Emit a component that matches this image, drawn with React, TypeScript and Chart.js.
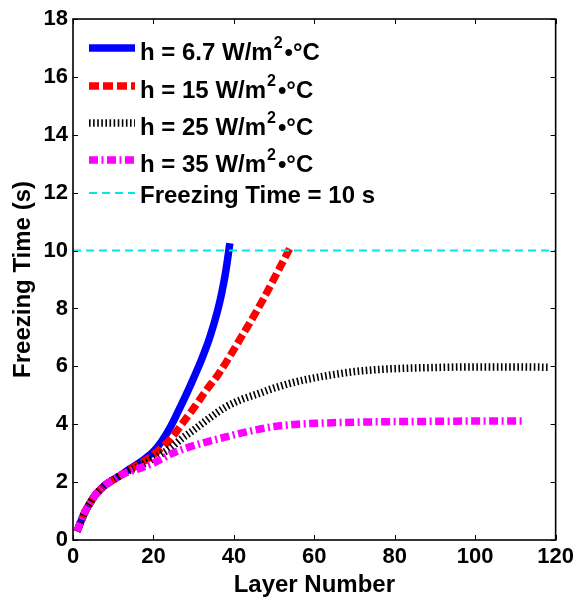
import React, { useEffect, useRef } from "react";
import { Chart, registerables } from "chart.js";

Chart.register(...registerables);

// ---- Data ----
const layersBlue = [1, 2, 3, 4, 5, 6, 7, 8, 10, 12, 14, 16, 18, 20, 22, 24, 26, 28, 30, 32, 34, 36, 37, 38, 39];
const freezeBlue = [0.3, 0.65, 0.98, 1.22, 1.45, 1.63, 1.77, 1.9, 2.08, 2.25, 2.45, 2.62, 2.82, 3.05, 3.4, 3.85, 4.4, 4.98, 5.6, 6.25, 7.0, 7.95, 8.55, 9.3, 10.25];

const layersRed = [1, 2, 3, 4, 5, 6, 7, 8, 10, 12, 14, 16, 18, 20, 22, 24, 26, 28, 30, 33, 36, 39, 42, 45, 48, 51, 54];
const freezeRed = [0.3, 0.65, 0.98, 1.22, 1.45, 1.63, 1.77, 1.9, 2.08, 2.25, 2.43, 2.58, 2.75, 2.95, 3.18, 3.45, 3.8, 4.18, 4.55, 5.15, 5.7, 6.35, 7.05, 7.75, 8.5, 9.3, 10.1];

const layersBlack = [1, 2, 3, 4, 5, 6, 7, 8, 10, 12, 14, 16, 18, 20, 22, 24, 27, 30, 34, 38, 42, 46, 50, 55, 60, 65, 70, 75, 80, 90, 100, 110, 118];
const freezeBlack = [0.3, 0.65, 0.98, 1.22, 1.45, 1.63, 1.77, 1.9, 2.08, 2.25, 2.4, 2.52, 2.66, 2.82, 2.98, 3.15, 3.5, 3.8, 4.22, 4.6, 4.86, 5.05, 5.25, 5.45, 5.6, 5.72, 5.82, 5.88, 5.92, 5.96, 5.98, 5.98, 5.97];

const layersMagenta = [1, 2, 3, 4, 5, 6, 7, 8, 10, 12, 14, 16, 18, 20, 22, 24, 27, 30, 34, 38, 42, 46, 50, 55, 60, 70, 80, 90, 100, 112];
const freezeMagenta = [0.3, 0.65, 0.98, 1.22, 1.45, 1.63, 1.77, 1.9, 2.08, 2.25, 2.36, 2.45, 2.55, 2.66, 2.8, 2.95, 3.12, 3.26, 3.42, 3.56, 3.7, 3.82, 3.92, 3.99, 4.03, 4.07, 4.09, 4.1, 4.11, 4.11];

const layersLimit = [0, 120];
const freezeLimit = [10, 10];

const seriesLabels = [
  "h = 6.7 W/m^2•°C",
  "h = 15 W/m^2•°C",
  "h = 25 W/m^2•°C",
  "h = 35 W/m^2•°C",
  "Freezing Time = 10 s",
];

const xTitle = "Layer Number";
const yTitle = "Freezing Time (s)";

// ---- styling ----
const FAMILY = '"Liberation Sans", Arial, Helvetica, sans-serif';

const toPoints = (xs: number[], ys: number[]) => xs.map((x, i) => ({ x, y: ys[i] }));

const framePlugin = {
  id: "matlabFrame",
  afterDatasetsDraw(chart: any) {
    const { ctx, chartArea, scales } = chart;
    const { left, right, top, bottom } = chartArea;
    const xs = scales.x;
    const ys = scales.y;
    ctx.save();
    ctx.strokeStyle = "#000";
    ctx.lineWidth = 1;
    ctx.beginPath();
    const tl = 5;
    xs.ticks.forEach((t: any) => {
      const px = Math.round(xs.getPixelForValue(t.value)) + 0.5;
      ctx.moveTo(px, bottom);
      ctx.lineTo(px, bottom - tl);
      ctx.moveTo(px, top);
      ctx.lineTo(px, top + tl);
    });
    ys.ticks.forEach((t: any) => {
      const py = Math.round(ys.getPixelForValue(t.value)) + 0.5;
      ctx.moveTo(left, py);
      ctx.lineTo(left + tl, py);
      ctx.moveTo(right, py);
      ctx.lineTo(right - tl, py);
    });
    ctx.stroke();
    ctx.lineWidth = 1.6;
    ctx.strokeRect(left, top, right - left, bottom - top);
    ctx.restore();
  },
};

const legendPlugin = {
  id: "matlabLegend",
  afterDraw(chart: any) {
    const { ctx, chartArea } = chart;
    const { left, top } = chartArea;
    const rowY = [29, 67, 104, 141, 174];
    const sampleX0 = left + 16;
    const sampleX1 = left + 62;
    const textX = left + 67;
    ctx.save();
    chart.data.datasets.forEach((ds: any, i: number) => {
      const y = top + rowY[i];
      ctx.beginPath();
      ctx.strokeStyle = ds.borderColor;
      ctx.lineWidth = ds.borderWidth;
      ctx.lineCap = "butt";
      ctx.setLineDash(ds.borderDash || []);
      ctx.moveTo(sampleX0, y);
      ctx.lineTo(sampleX1, y);
      ctx.stroke();
      ctx.setLineDash([]);

      const label: string = ds.label;
      const baseY = y + (i === 4 ? 10 : 12);
      ctx.fillStyle = "#000";
      ctx.textBaseline = "alphabetic";
      ctx.textAlign = "left";
      const big = `bold 24px ${FAMILY}`;
      const small = `bold 16px ${FAMILY}`;
      const caret = label.indexOf("^");
      if (caret >= 0) {
        const pre = label.slice(0, caret);
        const sup = label.slice(caret + 1, caret + 2);
        const post = label.slice(caret + 2);
        ctx.font = big;
        ctx.fillText(pre, textX, baseY);
        let cx = textX + ctx.measureText(pre).width + 1;
        ctx.font = small;
        ctx.fillText(sup, cx, baseY - 12);
        cx += ctx.measureText(sup).width + 2;
        ctx.font = big;
        ctx.fillText(post, cx, baseY);
      } else {
        ctx.font = big;
        ctx.fillText(label, textX, baseY);
      }
    });
    ctx.restore();
  },
};

export default function App() {
  const ref = useRef<HTMLCanvasElement>(null);

  useEffect(() => {
    const canvas = ref.current;
    if (!canvas) return;
    const common = {
      pointRadius: 0,
      pointHoverRadius: 0,
      fill: false,
      cubicInterpolationMode: "monotone" as const,
      borderCapStyle: "butt" as const,
      borderJoinStyle: "round" as const,
    };
    const chart = new Chart(canvas, {
      type: "line",
      data: {
        datasets: [
          {
            ...common,
            label: seriesLabels[0],
            data: toPoints(layersBlue, freezeBlue),
            borderColor: "#0000FF",
            borderWidth: 7.5,
            borderDash: [],
            order: 5,
          },
          {
            ...common,
            label: seriesLabels[1],
            data: toPoints(layersRed, freezeRed),
            borderColor: "#FF0000",
            borderWidth: 7.5,
            borderDash: [10, 4],
            order: 4,
          },
          {
            ...common,
            label: seriesLabels[2],
            data: toPoints(layersBlack, freezeBlack),
            borderColor: "#000000",
            borderWidth: 7.5,
            borderDash: [1.6, 2.5],
            order: 3,
          },
          {
            ...common,
            label: seriesLabels[3],
            data: toPoints(layersMagenta, freezeMagenta),
            borderColor: "#FF00FF",
            borderWidth: 7.5,
            borderDash: [9, 3.5, 2, 3.5],
            order: 2,
          },
          {
            ...common,
            label: seriesLabels[4],
            data: toPoints(layersLimit, freezeLimit),
            borderColor: "#00E8E8",
            borderWidth: 2,
            borderDash: [8, 5],
            cubicInterpolationMode: "default" as const,
            order: 1,
          },
        ],
      },
      options: {
        responsive: false,
        animation: false,
        devicePixelRatio: 1,
        layout: { padding: { top: 19, right: 20, left: 0, bottom: 0 } },
        plugins: {
          legend: { display: false },
          tooltip: { enabled: false },
        },
        events: [],
        scales: {
          x: {
            type: "linear",
            min: 0,
            max: 120,
            grid: { display: false, drawTicks: false },
            border: { display: false },
            ticks: {
              stepSize: 20,
              color: "#000",
              padding: 4,
              maxRotation: 0,
              font: { family: FAMILY, size: 22, weight: "bold" },
            },
            title: {
              display: true,
              text: xTitle,
              color: "#000",
              padding: { top: 0, bottom: 0 },
              font: { family: FAMILY, size: 24, weight: "bold", lineHeight: 1 },
            },
            afterFit(scale: any) {
              scale.height = 57;
            },
          },
          y: {
            type: "linear",
            min: 0,
            max: 18,
            grid: { display: false, drawTicks: false },
            border: { display: false },
            ticks: {
              stepSize: 2,
              color: "#000",
              padding: 5,
              font: { family: FAMILY, size: 22, weight: "bold" },
            },
            title: {
              display: true,
              text: yTitle,
              color: "#000",
              padding: { top: 11, bottom: 0 },
              font: { family: FAMILY, size: 24, weight: "bold", lineHeight: 1 },
            },
            afterFit(scale: any) {
              scale.width = 73;
            },
          },
        },
      },
      plugins: [framePlugin, legendPlugin],
    });
    return () => chart.destroy();
  }, []);

  return (
    <div style={{ position: "absolute", left: 0, top: 0, width: 578, height: 597, background: "#fff" }}>
      <canvas ref={ref} width={578} height={597} style={{ display: "block" }} />
    </div>
  );
}
